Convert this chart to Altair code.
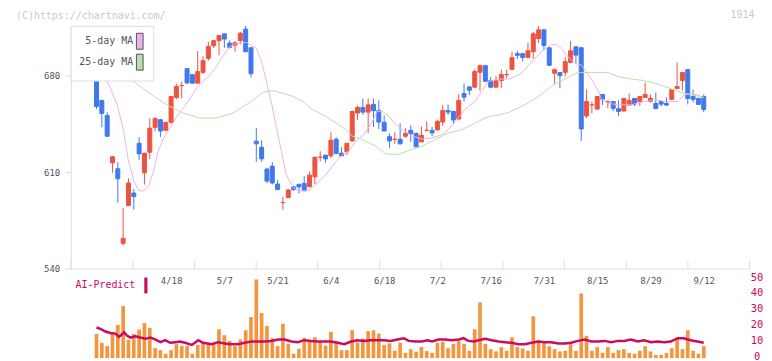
import altair as alt
import pandas as pd

# ---------------- data ----------------
opens = [677.6, 677.1, 662.0, 651.1, 616.7, 612.4, 558.3, 585.7, 594.8, 630.9,
         609.5, 624.4, 642.5, 648.0, 640.3, 646.1, 664.1, 672.8, 685.1, 680.7,
         674.5, 682.4, 692.5, 701.7, 705.3, 710.3, 703.6, 702.1, 705.5, 713.7,
         700.2, 632.4, 628.0, 612.2, 614.3, 601.3, 587.9, 591.5, 599.2, 601.1,
         601.8, 599.4, 606.6, 620.8, 622.3, 621.8, 633.8, 623.7, 624.7, 632.6,
         652.8, 656.9, 653.5, 659.1, 654.5, 646.1, 635.7, 633.8, 633.8, 636.0,
         640.3, 638.1, 631.9, 640.3, 640.3, 640.6, 646.3, 654.7, 654.0, 648.5,
         667.0, 671.8, 671.6, 682.4, 687.2, 676.4, 671.6, 676.4, 680.7, 684.6,
         695.9, 695.9, 693.2, 697.3, 706.9, 713.2, 700.2, 681.7, 682.2, 682.4,
         689.6, 700.9, 700.2, 650.7, 658.8, 655.7, 666.3, 661.0, 661.2, 656.0,
         654.3, 658.6, 663.4, 661.2, 664.1, 661.2, 659.8, 661.2, 659.8, 662.7,
         670.6, 676.4, 684.3, 664.8, 663.4, 664.8]
highs = [677.6, 677.5, 662.5, 653.3, 621.8, 617.2, 584.0, 605.4, 597.7, 635.3,
         624.0, 649.0, 649.5, 648.5, 646.1, 665.0, 674.2, 675.7, 685.5, 681.0,
         697.8, 694.0, 704.5, 706.0, 709.5, 710.5, 705.5, 705.0, 711.8, 716.1,
         700.5, 641.8, 633.1, 613.1, 617.2, 604.2, 592.0, 597.7, 600.1, 601.5,
         607.1, 610.5, 621.0, 625.2, 622.5, 638.9, 635.3, 628.0, 631.0, 654.7,
         658.4, 663.4, 663.4, 663.4, 662.0, 651.1, 638.1, 638.9, 645.4, 641.8,
         643.9, 638.5, 643.2, 646.8, 643.0, 648.0, 658.8, 659.1, 654.5, 666.5,
         674.2, 672.0, 684.6, 687.9, 687.5, 679.0, 679.8, 684.3, 684.3, 697.3,
         698.0, 696.0, 703.8, 711.8, 716.1, 713.9, 700.5, 685.1, 682.5, 693.2,
         705.3, 701.0, 700.9, 669.9, 661.2, 665.0, 666.5, 662.0, 661.5, 662.0,
         663.5, 667.0, 663.5, 665.0, 675.0, 666.3, 667.7, 662.0, 664.1, 670.0,
         689.4, 682.5, 684.5, 669.9, 664.1, 666.3]
lows = [677.6, 655.9, 642.5, 636.0, 609.5, 587.9, 556.6, 585.7, 582.8, 618.9,
        600.9, 619.6, 639.6, 635.5, 640.3, 645.0, 662.9, 663.6, 674.0, 674.0,
        674.5, 681.0, 690.8, 700.0, 694.9, 700.2, 699.7, 697.3, 702.6, 697.0,
        678.6, 617.5, 617.5, 602.1, 601.0, 597.0, 582.8, 591.5, 596.3, 594.6,
        596.0, 599.0, 601.3, 617.7, 616.7, 620.3, 623.0, 621.5, 622.5, 632.0,
        647.8, 651.6, 638.4, 642.7, 641.3, 639.5, 627.6, 630.5, 630.0, 634.8,
        631.9, 628.0, 631.9, 639.5, 636.0, 640.0, 643.4, 651.4, 644.9, 648.0,
        661.2, 665.8, 671.0, 668.9, 675.5, 670.9, 671.5, 670.9, 678.1, 684.0,
        692.0, 690.3, 693.0, 692.3, 703.6, 698.5, 687.0, 674.2, 670.9, 679.3,
        689.0, 688.9, 632.6, 649.2, 652.6, 655.5, 658.6, 656.4, 654.3, 650.7,
        654.0, 658.5, 657.9, 657.9, 664.0, 660.5, 655.5, 657.6, 657.9, 662.5,
        670.5, 669.2, 659.1, 660.5, 658.9, 653.5]
closes = [677.6, 657.6, 652.6, 636.0, 621.1, 605.2, 561.9, 602.1, 592.2, 623.2,
          623.7, 641.8, 649.0, 639.8, 646.1, 664.8, 672.1, 672.8, 674.7, 674.5,
          682.9, 690.8, 701.2, 705.3, 709.1, 706.5, 700.5, 703.8, 710.8, 697.3,
          681.4, 630.5, 619.6, 603.5, 602.1, 597.3, 587.9, 597.0, 597.3, 599.2,
          596.8, 607.8, 620.8, 620.8, 619.6, 633.1, 623.5, 621.8, 630.9, 654.0,
          656.9, 653.5, 658.8, 654.5, 646.3, 639.8, 632.6, 633.8, 630.5, 638.1,
          637.7, 628.3, 636.7, 640.3, 638.4, 646.8, 654.7, 653.5, 647.8, 662.0,
          664.4, 669.4, 682.9, 687.2, 675.9, 671.6, 676.2, 680.7, 680.7, 693.0,
          694.7, 693.2, 698.0, 710.3, 713.2, 701.9, 687.5, 684.3, 680.0, 690.1,
          698.0, 694.9, 641.3, 661.2, 658.8, 664.8, 662.9, 661.0, 656.2, 654.0,
          663.4, 662.0, 659.3, 664.8, 666.3, 663.4, 656.2, 659.3, 658.6, 669.9,
          672.1, 682.2, 663.4, 662.7, 659.1, 655.5]

volumes = [15.2, 9.6, 7.5, 16.0, 20.8, 32.7, 11.5, 15.2, 17.9, 22.0,
           19.0, 6.2, 5.0, 2.7, 5.0, 8.75, 7.7, 7.7, 2.7, 8.3,
           9.6, 9.6, 9.6, 18.1, 14.4, 10.8, 7.5, 11.7, 17.5, 25.8,
           49.4, 28.3, 20.2, 12.5, 7.5, 21.5, 9.0, 2.7, 5.8, 12.7,
           10.4, 13.1, 10.4, 7.9, 16.5, 10.4, 5.0, 5.0, 17.5, 9.8,
           12.3, 16.9, 17.5, 15.4, 8.3, 9.2, 4.6, 9.6, 3.3, 5.6,
           4.0, 6.9, 4.4, 3.3, 9.6, 10.2, 6.2, 9.0, 10.8, 9.0,
           4.6, 18.1, 35.0, 9.0, 5.6, 4.2, 6.9, 4.6, 13.1, 6.9,
           6.0, 4.6, 26.25, 11.2, 10.4, 7.5, 5.6, 4.2, 4.6, 9.0,
           4.6, 40.6, 14.0, 4.6, 6.9, 3.3, 6.9, 3.3, 5.0, 5.6,
           3.3, 2.7, 4.6, 7.5, 4.2, 2.0, 2.0, 3.3, 6.2, 12.5,
           5.6, 17.5, 4.6, 2.7, 7.5]

ma5_idx = [0, 2.1, 3.6, 4.9, 6.1, 7.0, 8.0, 8.9, 9.8, 10.8, 11.7, 12.6, 13.6, 14.8,
           16.1, 17.3, 18.6, 19.8, 21.0, 22.3, 23.5, 24.8, 26.0, 27.3, 29.2, 31.0,
           32.0, 32.9, 33.8, 34.8, 35.7, 36.6, 37.9, 39.1, 40.7, 42.2, 44.1, 46.0,
           47.2, 48.4, 49.7, 51.2, 52.8, 53.7, 54.7, 55.9, 57.2, 58.4, 60.3, 62.1,
           64.0, 65.9, 67.1, 68.4, 69.6, 70.8, 72.1, 73.3, 74.6, 76.3, 78.6, 80.8,
           82.7, 84.5, 86.4, 87.3, 88.3, 89.5, 90.8, 92.0, 92.9, 94.2, 95.1, 95.7,
           97.0, 98.9, 101.3, 103.8, 106.3, 107.6, 110.1, 111.3, 112.5, 113.8, 115.0]
ma5_val = [690.0, 681.7, 670.9, 658.8, 639.6, 617.9, 603.5, 596.8, 596.3, 599.9,
           610.7, 625.2, 634.8, 642.0, 650.4, 656.4, 663.6, 670.9, 675.7, 680.5,
           686.5, 694.9, 700.9, 703.3, 704.1, 699.7, 690.1, 675.7, 661.2, 642.0,
           625.2, 608.3, 598.7, 596.3, 596.3, 601.1, 608.3, 617.9, 622.8, 625.2,
           632.4, 637.2, 646.8, 654.0, 654.0, 650.4, 644.4, 640.8, 636.0, 634.0,
           634.8, 637.2, 640.8, 646.8, 652.8, 657.6, 661.2, 668.5, 675.7, 677.5,
           677.5, 681.7, 690.1, 697.3, 702.6, 702.6, 699.7, 693.7, 688.9, 687.7,
           682.9, 675.7, 669.7, 663.6, 660.0, 658.8, 658.8, 661.2, 662.4, 661.2,
           661.2, 666.1, 666.5, 666.1, 664.1]

ma25_idx = [0, 3.0, 6.1, 8.0, 9.8, 12.3, 14.2, 17.3, 20.4, 23.5, 26.6, 29.8, 32.3,
            34.1, 36.0, 37.9, 39.7, 41.6, 44.1, 46.0, 47.8, 49.1, 50.9, 53.4, 55.3,
            57.8, 59.6, 62.1, 64.6, 67.1, 69.6, 72.1, 74.6, 76.5, 78.6, 81.4, 83.9,
            86.4, 88.9, 91.4, 93.9, 97.0, 98.9, 101.3, 103.8, 106.3, 108.8, 111.3,
            113.8, 115.0]
ma25_val = [700.0, 691.0, 681.7, 675.7, 670.4, 663.6, 658.8, 652.8, 649.2, 649.2,
            652.8, 660.6, 668.0, 669.0, 667.2, 664.8, 661.2, 655.2, 650.4, 645.6,
            640.8, 636.0, 633.6, 628.8, 623.2, 622.8, 625.7, 628.8, 633.6, 638.4,
            640.8, 645.6, 650.4, 651.3, 653.6, 658.8, 664.8, 672.1, 677.6, 682.2,
            682.2, 682.2, 679.3, 677.6, 676.4, 674.0, 670.4, 667.2, 665.3, 664.1]

ai_idx = [1.0, 1.75, 2.7, 3.6, 4.56, 5.2, 5.8, 6.2, 6.7, 7.4, 8.3, 9.2, 10.2, 11.1,
          12.0, 13.0, 13.9, 14.8, 15.8, 16.7, 17.6, 18.9, 20.1, 21.0, 22.6, 23.8,
          25.1, 26.3, 27.6, 28.8, 30.1, 31.3, 32.6, 33.8, 35.1, 36.3, 37.6, 38.8,
          40.0, 41.3, 42.5, 43.8, 45.0, 46.3, 47.5, 48.8, 50.0, 51.2, 52.5, 53.7,
          55.0, 56.2, 57.5, 58.7, 59.6, 60.9, 62.1, 63.1, 64.0, 65.2, 66.5, 67.7,
          69.0, 69.9, 70.8, 71.8, 72.7, 74.0, 75.2, 76.5, 77.7, 78.9, 80.2, 81.4,
          82.7, 83.9, 85.2, 86.4, 87.7, 88.9, 90.1, 91.4, 92.6, 93.9, 95.1, 96.4,
          97.6, 98.9, 100.1, 101.3, 102.6, 103.8, 105.1, 106.3, 107.6, 108.8,
          110.1, 111.3, 112.5, 113.8, 115.0]
ai_val = [19.2, 18.3, 16.7, 15.8, 15.4, 13.3, 15.0, 16.25, 14.2, 12.9, 13.75, 12.9,
          12.1, 12.9, 11.7, 10.0, 11.25, 9.6, 10.0, 10.4, 9.6, 8.3, 11.25, 9.6,
          8.75, 10.0, 9.2, 8.75, 8.75, 9.6, 10.4, 10.4, 10.4, 10.8, 11.7, 11.7,
          10.4, 10.0, 11.25, 10.8, 10.4, 10.4, 10.4, 9.6, 8.75, 10.4, 11.25, 10.8,
          11.25, 11.25, 11.25, 10.8, 11.7, 12.5, 10.8, 10.4, 10.4, 11.25, 10.4,
          11.7, 11.7, 11.25, 11.7, 12.5, 10.8, 10.4, 11.25, 12.1, 11.25, 10.4,
          10.0, 9.6, 8.75, 8.75, 9.6, 10.4, 10.0, 10.0, 9.2, 9.2, 9.6, 10.8, 11.7,
          10.4, 10.4, 10.8, 10.0, 10.8, 10.8, 11.7, 10.4, 11.25, 10.0, 10.4, 10.0,
          10.4, 12.5, 12.5, 11.25, 10.4, 9.6]

date_labels = ["4/18", "5/7", "5/21", "6/4", "6/18", "7/2", "7/16", "7/31",
               "8/15", "8/29", "9/12"]
date_idx = [15, 25, 35, 45, 55, 65, 75, 85, 95, 105, 115]
price_ticks = [540, 610, 680]
vol_ticks = [0, 10, 20, 30, 40, 50]

# ---------------- tables ----------------
candles = pd.DataFrame({"i": list(range(len(opens))), "open": opens,
                        "high": highs, "low": lows, "close": closes})
vol = pd.DataFrame({"i": list(range(1, len(volumes) + 1)), "volume": volumes})
ma5 = pd.DataFrame({"i": ma5_idx, "v": ma5_val, "series": "5-day MA"})
ma25 = pd.DataFrame({"i": ma25_idx, "v": ma25_val, "series": "25-day MA"})
ma = pd.concat([ma5, ma25])
ai = pd.DataFrame({"i": ai_idx, "v": ai_val, "name": "AI-Predict"})

# ---------------- style ----------------
MONO = "DejaVu Sans Mono"
RED = "#ef5340"
BLUE = "#4078ee"
PINK = "#e9b3e9"
GREEN = "#badfaa"
ORANGE = "#f2973f"
CRIMSON = "#cc0a62"
AXIS = "#dddddd"
TXT = "#555555"
FAINT = "#c8c8c8"

X_MIN, X_MAX = -3.85, 123.51
xscale = alt.Scale(domain=[X_MIN, X_MAX], nice=False, zero=False, padding=0)
yscale = alt.Scale(domain=[540, 716.1], nice=False, zero=False, padding=0)
vscale = alt.Scale(domain=[0, 56.25], nice=False, zero=True, padding=0)
tick_pos = [X_MIN + k * (X_MAX - X_MIN) / 11 for k in range(12)]

up = "datum.close >= datum.open"
cand_color = alt.condition(up, alt.value(RED), alt.value(BLUE))

label_expr = "[" + ",".join("'%s'" % d for d in date_labels) + "][round((datum.value-15)/10)]"

x_dates = alt.X("i:Q", scale=xscale, title=None,
                axis=alt.Axis(orient="bottom", values=date_idx, labelExpr=label_expr,
                              domain=False, ticks=False, tickSize=0, grid=False,
                              labelPadding=8, labelFont=MONO, labelFontSize=9,
                              labelColor=TXT, labelFlush=False))
x_code = alt.X("i:Q", scale=xscale, title=None,
               axis=alt.Axis(orient="top", values=[X_MAX], labelExpr="'1914'",
                             domain=False, ticks=False, tickSize=0, grid=False,
                             labelPadding=6, labelFont=MONO, labelFontSize=10,
                             labelColor=FAINT, labelAlign="right", labelOffset=5,
                             labelFlush=False))
x_plain = alt.X("i:Q", scale=xscale, title=None, axis=None)

YAX = alt.Axis(orient="left", values=price_ticks, grid=False,
               domainColor=AXIS, tickColor=AXIS, tickSize=6,
               labelPadding=5, labelFont=MONO, labelFontSize=9, labelColor=TXT)

wicks = alt.Chart(candles).mark_rule(strokeWidth=1).encode(
    x=x_dates, y=alt.Y("low:Q", scale=yscale, axis=YAX, title=None),
    y2="high:Q", color=cand_color)

bodies = alt.Chart(candles).mark_bar(size=4, strokeWidth=1).encode(
    x=x_code,
    y=alt.Y("open:Q", scale=yscale, axis=YAX, title=None),
    y2="close:Q",
    color=cand_color,
    stroke=alt.condition(up, alt.value(RED), alt.value(BLUE)))

ma5_line = alt.Chart(ma5).mark_line(strokeWidth=1, color=PINK).encode(
    x=x_plain, y=alt.Y("v:Q", scale=yscale, axis=YAX, title=None))
ma25_line = alt.Chart(ma25).mark_line(strokeWidth=1, color=GREEN).encode(
    x=x_plain, y=alt.Y("v:Q", scale=yscale, axis=YAX, title=None))

RECT = "M-0.49,-1.17H0.49V1.17H-0.49Z"
ma_key = alt.Chart(ma).mark_point(filled=True, opacity=0, stroke=TXT, strokeWidth=1).encode(
    x=x_plain,
    y=alt.Y("v:Q", scale=yscale, axis=YAX, title=None),
    fill=alt.Fill("series:N",
                  scale=alt.Scale(domain=["5-day MA", "25-day MA"], range=[PINK, GREEN]),
                  legend=alt.Legend(orient="none", legendX=0, legendY=0, title=None,
                                    direction="vertical", symbolType=RECT, symbolSize=188,
                                    symbolOffset=53.95, labelOffset=alt.ExprRef("-14.15"),
                                    labelAlign="right",
                                    labelFont=MONO, labelFontSize=10, labelColor=TXT,
                                    padding=8, rowPadding=0, fillColor="white",
                                    strokeColor=AXIS, symbolStrokeColor=TXT,
                                    symbolStrokeWidth=1, symbolOpacity=1, labelLimit=200)))

price = alt.layer(wicks, bodies, ma5_line, ma25_line, ma_key).resolve_axis(
    x="independent").properties(
    width=682, height=244,
    title=alt.TitleParams("(C)https://chartnavi.com/", anchor="start", frame="group",
                          dx=-55, dy=17, offset=6, font=MONO, fontSize=10,
                          fontWeight="normal", color=FAINT))

VX = alt.Axis(orient="top", values=tick_pos, labels=False, grid=False,
              domainColor=AXIS, tickColor=AXIS, tickSize=8)
VY = alt.Axis(orient="right", values=vol_ticks, grid=False, domain=False,
              ticks=False, labelPadding=7.5, labelAlign="center",
              labelOffset=alt.ExprRef("-1.5"),
              labelFont=MONO, labelFontSize=10.5, labelColor=CRIMSON)

vol_bars = alt.Chart(vol).mark_bar(size=3.7, color=ORANGE).encode(
    x=alt.X("i:Q", scale=xscale, title=None, axis=VX),
    y=alt.Y("volume:Q", scale=vscale, title=None, axis=VY))

ai_line = alt.Chart(ai).mark_line(color=CRIMSON, strokeWidth=2.5).encode(
    x=alt.X("i:Q", scale=xscale, title=None, axis=VX),
    y=alt.Y("v:Q", scale=vscale, title=None, axis=VY))

AIRECT = "M-0.2,-1H0.2V1H-0.2Z"
ai_key = alt.Chart(ai).mark_point(filled=True, opacity=0).encode(
    x=alt.X("i:Q", scale=xscale, title=None, axis=VX),
    y=alt.Y("v:Q", scale=vscale, title=None, axis=VY),
    fill=alt.Fill("name:N", scale=alt.Scale(domain=["AI-Predict"], range=[CRIMSON]),
                  legend=alt.Legend(orient="none", legendX=6, legendY=9, title=None,
                                    symbolType=AIRECT, symbolSize=256, symbolOffset=61.6,
                                    labelOffset=alt.ExprRef("-18.6"), labelAlign="right",
                                    labelFont=MONO,
                                    labelFontSize=10, labelColor=CRIMSON, padding=0,
                                    symbolStrokeWidth=0, symbolOpacity=1, labelLimit=200)))

volume = alt.layer(vol_bars, ai_line, ai_key).properties(width=682, height=90)

chart = alt.vconcat(price, volume, spacing=0, bounds="flush").resolve_scale(
    fill="independent").resolve_legend(fill="independent").configure(
    padding={"left": 7, "top": 0, "right": 0, "bottom": 0},
    background="white").configure_view(stroke="transparent")

chart.save("out.html", embed_options={"renderer": "svg", "actions": False})
